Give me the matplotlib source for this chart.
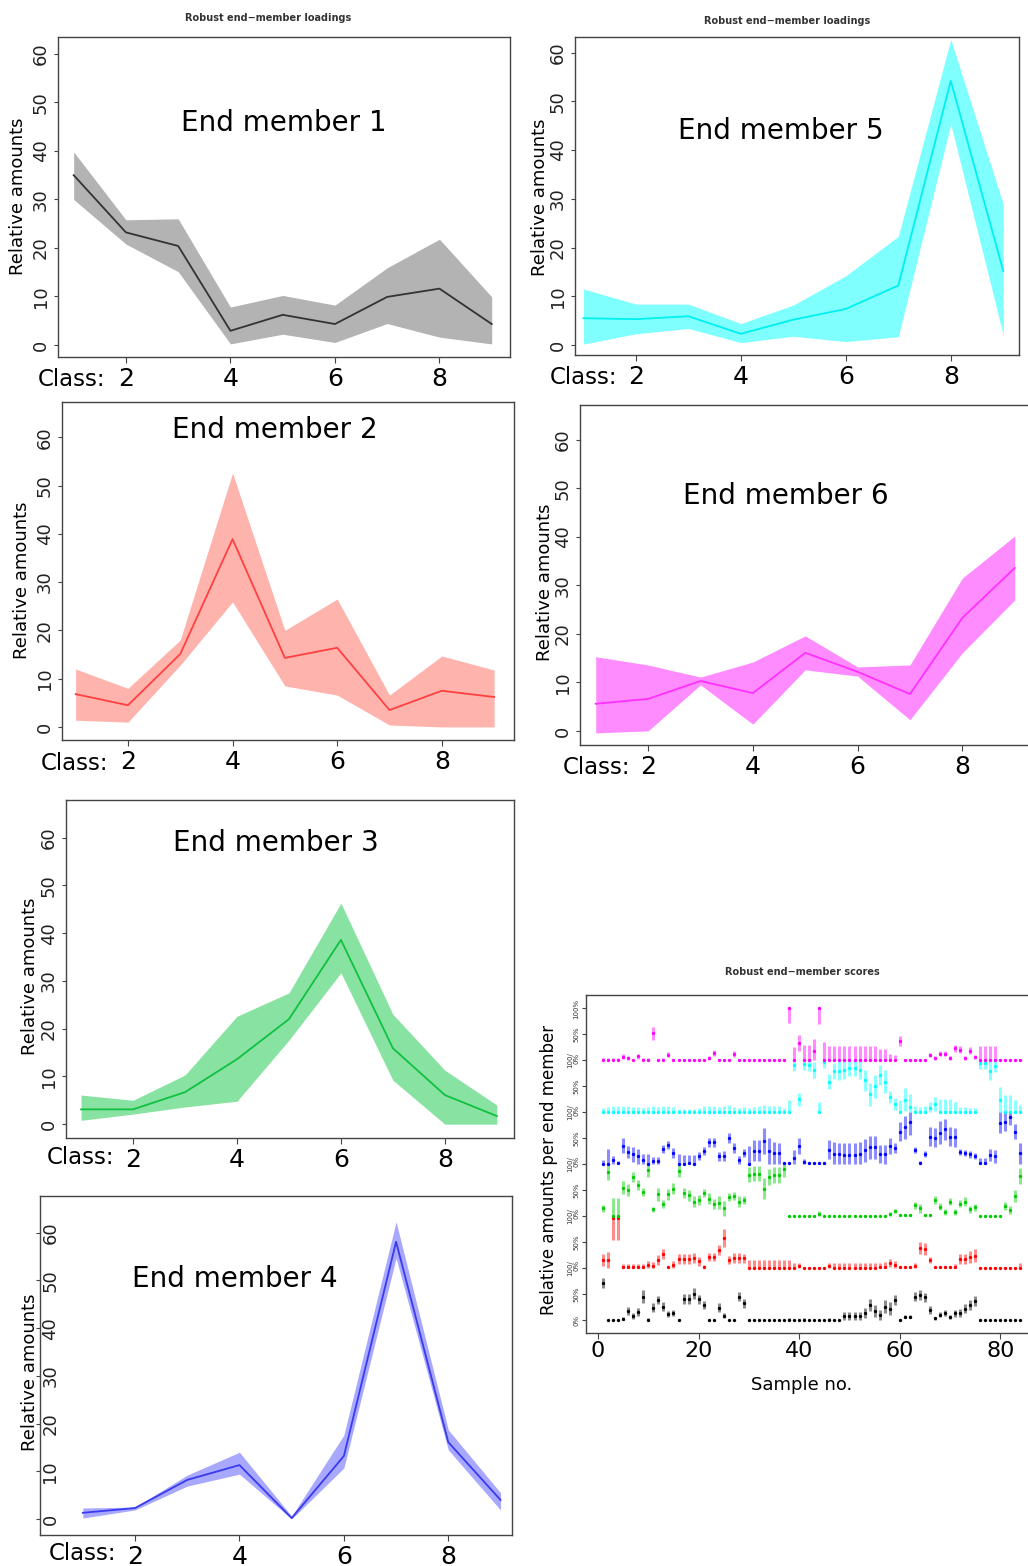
import matplotlib
matplotlib.use("Agg")
import matplotlib.pyplot as plt
import numpy as np

W, H = 1028, 1566
DPI = 100

# ---- loadings (per grain-size class) ----
CLASSES = [1, 2, 3, 4, 5, 6, 7, 8, 9]

EM1_MEAN = [35.0, 23.2, 20.4, 2.9, 6.2, 4.3, 9.9, 11.6, 4.3]
EM1_HI = [39.8, 25.8, 26.0, 7.8, 10.2, 8.2, 15.9, 21.8, 9.9]
EM1_LO = [30.0, 20.8, 15.1, 0.2, 2.2, 0.5, 4.4, 1.6, 0.2]

EM2_MEAN = [6.8, 4.5, 15.1, 38.9, 14.3, 16.4, 3.5, 7.5, 6.2]
EM2_HI = [12.0, 8.0, 18.0, 52.6, 20.0, 26.5, 6.6, 14.7, 11.8]
EM2_LO = [1.4, 1.0, 12.8, 25.9, 8.5, 6.6, 0.4, 0.0, 0.0]

EM3_MEAN = [3.1, 3.1, 6.7, 13.6, 22.0, 38.6, 15.9, 6.1, 1.7]
EM3_HI = [6.1, 5.0, 10.3, 22.6, 27.5, 46.3, 23.0, 11.3, 4.0]
EM3_LO = [0.8, 2.1, 3.6, 4.8, 17.6, 31.7, 9.2, 0.0, 0.0]

EM4_MEAN = [1.3, 2.3, 8.2, 11.3, 0.2, 13.2, 58.1, 16.1, 4.0]
EM4_HI = [2.3, 2.5, 9.2, 14.0, 0.6, 17.6, 62.3, 18.7, 5.5]
EM4_LO = [0.2, 1.9, 6.9, 9.4, 0.0, 10.7, 54.7, 14.5, 1.9]

EM5_MEAN = [5.5, 5.3, 5.9, 2.3, 5.2, 7.4, 12.2, 54.2, 15.2]
EM5_HI = [11.5, 8.4, 8.4, 4.4, 8.2, 14.2, 22.3, 62.7, 28.9]
EM5_LO = [0.2, 2.3, 3.4, 0.5, 1.8, 0.7, 1.7, 45.3, 2.0]

EM6_MEAN = [5.6, 6.6, 10.3, 7.8, 16.1, 12.2, 7.6, 23.3, 33.6]
EM6_HI = [15.3, 13.6, 11.1, 14.2, 19.6, 13.2, 13.6, 31.5, 40.2]
EM6_LO = [-0.4, 0.0, 9.5, 1.4, 12.6, 11.3, 2.3, 16.1, 27.0]

# ---- scores (per sample, % of each end member) ----
SAMPLES = np.arange(1, 85)

BLACK_V = [71, 0, 0, 0, 2, 18, 8, 16, 45, 0,
           24, 39, 26, 12, 14, 0, 40, 40, 51, 40,
           29, 0, 0, 24, 8, 0, 0, 45, 32, 0,
           0, 0, 0, 0, 0, 0, 0, 0, 0, 0,
           0, 0, 0, 0, 0, 0, 0, 0, 8, 8,
           8, 8, 14, 29, 17, 10, 26, 22, 39, 0,
           6, 6, 45, 48, 44, 19, 3, 10, 14, 6,
           13, 14, 22, 29, 37, 0, 0, 0, 0, 0,
           0, 0, 0, 0]
BLACK_E = [10, 1, 1, 1, 3, 8, 6, 8, 12, 3,
           8, 8, 8, 6, 6, 2, 10, 10, 10, 9,
           8, 1, 1, 8, 5, 1, 1, 9, 9, 1,
           1, 1, 1, 1, 1, 1, 1, 3, 1, 1,
           3, 1, 1, 1, 1, 3, 1, 1, 8, 8,
           8, 8, 10, 12, 12, 10, 12, 12, 10, 2,
           3, 3, 9, 9, 9, 8, 3, 5, 6, 4,
           7, 8, 9, 10, 10, 1, 1, 1, 1, 1,
           1, 1, 1, 1]

RED_V = [16, 16, 96, 96, 2, 2, 2, 2, 2, 6,
         4, 16, 27, 2, 6, 17, 17, 18, 19, 13,
         2, 21, 22, 35, 58, 15, 19, 19, 19, 0,
         0, 0, 0, 0, 0, 0, 0, 0, 0, 5,
         0, 0, 0, 0, 0, 5, 0, 0, 0, 0,
         0, 0, 0, 0, 0, 2, 3, 10, 6, 2,
         2, 2, 4, 39, 37, 16, 2, 2, 2, 2,
         3, 18, 18, 21, 24, 0, 0, 0, 0, 0,
         0, 0, 0, 0]
RED_E = [12, 15, 42, 42, 5, 5, 5, 6, 5, 8,
         8, 10, 9, 3, 7, 10, 10, 10, 10, 9,
         4, 8, 8, 10, 18, 8, 10, 10, 9, 15,
         15, 15, 15, 15, 15, 15, 15, 15, 10, 4,
         2, 2, 2, 2, 2, 4, 10, 10, 10, 10,
         10, 10, 10, 10, 10, 8, 8, 8, 8, 2,
         2, 2, 5, 12, 12, 6, 2, 2, 2, 3,
         5, 10, 10, 12, 12, 2, 2, 2, 2, 2,
         2, 2, 2, 10]

GREEN_V = [15, 85, 0, 0, 55, 50, 76, 60, 46, 89,
           13, 42, 24, 42, 53, 87, 45, 40, 28, 31,
           45, 34, 24, 26, 15, 37, 39, 28, 31, 80,
           82, 82, 53, 76, 79, 79, 90, 0, 0, 0,
           0, 0, 0, 5, 0, 0, 0, 0, 0, 0,
           0, 0, 0, 0, 0, 0, 0, 5, 10, 2,
           2, 2, 21, 15, 2, 2, 31, 18, 8, 28,
           8, 24, 28, 13, 17, 0, 0, 0, 0, 0,
           19, 12, 39, 77]
GREEN_E = [6, 15, 35, 35, 12, 12, 10, 10, 8, 13,
           5, 12, 8, 10, 10, 12, 10, 10, 10, 10,
           8, 10, 10, 12, 15, 8, 8, 10, 8, 15,
           15, 15, 20, 15, 15, 15, 15, 3, 3, 3,
           3, 3, 3, 5, 3, 3, 3, 3, 3, 3,
           3, 3, 3, 3, 3, 3, 3, 4, 4, 3,
           3, 3, 7, 9, 3, 3, 7, 7, 6, 7,
           6, 7, 8, 6, 7, 3, 3, 3, 3, 3,
           8, 8, 12, 15]

BLUE_V = [0, 0, 8, 2, 36, 24, 19, 15, 8, 0,
          6, 6, 30, 37, 22, 0, 0, 3, 0, 16,
          26, 42, 42, 15, 16, 50, 31, 8, 22, 0,
          26, 26, 45, 25, 21, 21, 2, 2, 12, 35,
          5, 2, 2, 2, 2, 28, 20, 19, 18, 18,
          18, 20, 27, 33, 33, 20, 19, 35, 31, 63,
          71, 82, 28, 2, 20, 53, 51, 61, 67, 53,
          52, 23, 21, 19, 16, 2, 2, 18, 15, 80,
          82, 91, 63, 21]
BLUE_E = [8, 30, 8, 5, 15, 12, 15, 15, 12, 20,
          8, 8, 8, 8, 10, 20, 18, 15, 18, 8,
          8, 8, 8, 8, 10, 10, 10, 8, 8, 35,
          20, 20, 25, 25, 22, 20, 3, 3, 15, 15,
          6, 3, 3, 3, 3, 18, 22, 22, 22, 22,
          22, 22, 22, 22, 22, 18, 18, 15, 10, 18,
          22, 25, 6, 5, 6, 18, 18, 22, 20, 18,
          18, 6, 6, 6, 6, 10, 10, 12, 12, 20,
          18, 15, 15, 20]

CYAN_V = [0, 0, 0, 0, 0, 0, 0, 0, 0, 0,
          0, 0, 0, 0, 0, 0, 0, 0, 0, 0,
          0, 0, 0, 0, 0, 0, 0, 0, 0, 0,
          0, 0, 0, 0, 0, 0, 0, 0, 91, 25,
          94, 91, 82, 0, 97, 59, 80, 80, 82, 85,
          85, 82, 62, 35, 50, 72, 59, 30, 16, 0,
          24, 11, 0, 0, 0, 8, 16, 0, 0, 0,
          0, 0, 0, 0, 0, 95, 95, 80, 90, 24,
          0, 0, 0, 0]
CYAN_E = [8, 10, 12, 12, 12, 12, 10, 10, 8, 10,
          12, 10, 12, 12, 10, 6, 6, 6, 6, 8,
          12, 12, 12, 10, 12, 14, 10, 8, 10, 8,
          10, 12, 14, 12, 12, 12, 8, 24, 12, 12,
          12, 12, 15, 20, 12, 15, 15, 18, 18, 15,
          15, 18, 20, 22, 22, 20, 22, 12, 12, 24,
          22, 25, 12, 10, 12, 12, 14, 25, 25, 25,
          20, 10, 10, 8, 8, 12, 12, 18, 12, 25,
          33, 33, 24, 14]

MAGENTA_V = [0, 0, 0, 0, 7, 4, 0, 8, 1, 0,
             52, 0, 1, 11, 0, 0, 0, 0, 0, 0,
             0, 5, 15, 0, 0, 0, 13, 0, 0, 0,
             0, 0, 0, 0, 0, 0, 0, 100, 0, 33,
             0, 0, 19, 100, 0, 0, 0, 0, 0, 0,
             0, 0, 0, 0, 0, 0, 0, 0, 0, 37,
             0, 0, 0, 0, 0, 10, 5, 13, 13, 5,
             23, 21, 5, 19, 6, 0, 0, 0, 0, 0,
             0, 0, 0, 0]
MAGENTA_E = [4, 4, 4, 4, 5, 5, 3, 5, 4, 4,
             12, 2, 3, 5, 2, 2, 2, 2, 2, 2,
             2, 4, 6, 2, 2, 2, 6, 2, 2, 2,
             2, 2, 2, 2, 2, 2, 2, 28, 25, 15,
             30, 30, 22, 30, 35, 27, 27, 27, 27, 27,
             27, 27, 27, 27, 27, 22, 22, 12, 10, 10,
             2, 2, 2, 2, 2, 4, 4, 5, 5, 4,
             7, 7, 4, 6, 4, 28, 28, 28, 28, 3,
             3, 3, 3, 3]

SCORE_ROWS = [
    (BLACK_V, BLACK_E, "#000000"),
    (RED_V, RED_E, "#ff0000"),
    (GREEN_V, GREEN_E, "#00cd00"),
    (BLUE_V, BLUE_E, "#0000ff"),
    (CYAN_V, CYAN_E, "#00ffff"),
    (MAGENTA_V, MAGENTA_E, "#ff00ff"),
]

# painel: caixa em pixels (x0, y0, x1, y1), limites, cores, posicao dos textos
PAINEIS = [
    dict(nome="End member 1", dados=(EM1_MEAN, EM1_LO, EM1_HI),
         box=(58, 37, 510, 357), xlim=(0.70, 9.35), ylim=(-2.5, 63.5),
         fill="#b3b3b3", line="#333333", nome_xy=(284, 123),
         ylab=(18, 196), classe=(105, 380), ypad=3),
    dict(nome="End member 5", dados=(EM5_MEAN, EM5_LO, EM5_HI),
         box=(575, 37, 1019, 355), xlim=(0.84, 9.30), ylim=(-2.05, 63.2),
         fill="#80ffff", line="#00f0f0", nome_xy=(781, 131),
         ylab=(540, 197), classe=(617, 378), ypad=3),
    dict(nome="End member 2", dados=(EM2_MEAN, EM2_LO, EM2_HI),
         box=(62, 402, 514, 740), xlim=(0.74, 9.38), ylim=(-2.7, 67.3),
         fill="#ffb3ad", line="#ff4040", nome_xy=(275, 430),
         ylab=(22, 580), classe=(108, 763), ypad=3),
    dict(nome="End member 6", dados=(EM6_MEAN, EM6_LO, EM6_HI),
         box=(580, 405, 1032, 745), xlim=(0.70, 9.33), ylim=(-2.9, 67.2),
         fill="#ff8cff", line="#ff30ff", nome_xy=(786, 496),
         ylab=(545, 582), classe=(630, 767), ypad=3),
    dict(nome="End member 3", dados=(EM3_MEAN, EM3_LO, EM3_HI),
         box=(66, 800, 514, 1138), xlim=(0.71, 9.33), ylim=(-2.9, 67.9),
         fill="#88e3a2", line="#10c040", nome_xy=(276, 843),
         ylab=(30, 976), classe=(114, 1158), ypad=3),
    # aqui os rotulos do eixo y ficam dentro da moldura
    dict(nome="End member 4", dados=(EM4_MEAN, EM4_LO, EM4_HI),
         box=(40, 1196, 512, 1535), xlim=(0.18, 9.22), ylim=(-3.35, 67.7),
         fill="#a8a8ff", line="#3a3aee", nome_xy=(235, 1279),
         ylab=(30, 1372), classe=(116, 1553), ypad=-17),
]

COR_EIXO = "#444444"


def add_ax(fig, box):
    x0, y0, x1, y1 = box
    return fig.add_axes([x0 / W, 1 - y1 / H, (x1 - x0) / W, (y1 - y0) / H])


def fig_xy(x, y):
    return x / W, 1 - y / H


def estilo_eixos(ax):
    for sp in ax.spines.values():
        sp.set_color(COR_EIXO)
        sp.set_linewidth(1.0)
    ax.tick_params(colors=COR_EIXO, labelcolor="black", width=0.8)


def painel_loading(fig, p):
    mean, lo, hi = p["dados"]
    ax = add_ax(fig, p["box"])
    ax.fill_between(CLASSES, lo, hi, color=p["fill"], lw=0)
    ax.plot(CLASSES, mean, color=p["line"], lw=1.3)
    ax.set_xlim(p["xlim"])
    ax.set_ylim(p["ylim"])
    ax.set_xticks([2, 4, 6, 8])
    ax.set_yticks(range(0, 61, 10))
    estilo_eixos(ax)
    ax.tick_params(axis="x", labelsize=18, length=4, pad=3)
    ax.tick_params(axis="y", labelsize=13, length=3, pad=p["ypad"])
    for t in ax.get_yticklabels():
        t.set_rotation(90)
        t.set_va("center")
        t.set_color("#222222")

    fx, fy = fig_xy(*p["nome_xy"])
    fig.text(fx, fy, p["nome"], ha="center", va="center", fontsize=20)
    fx, fy = fig_xy(*p["ylab"])
    fig.text(fx, fy, "Relative amounts", rotation=90, ha="center",
             va="center", fontsize=13)
    fx, fy = fig_xy(*p["classe"])
    fig.text(fx, fy, "Class:", ha="right", va="center", fontsize=16.5)
    return ax


def painel_scores(fig):
    ax = add_ax(fig, (586, 995, 1032, 1333))
    for banda, (vals, errs, cor) in enumerate(SCORE_ROWS):
        v = np.array(vals, dtype=float)
        e = np.array(errs, dtype=float)
        lo = np.clip(v - e, 0, 100)
        hi = np.clip(v + e, 0, 100)
        ax.vlines(SAMPLES, banda + lo / 100, banda + hi / 100,
                  color=cor, alpha=0.45, lw=2.2)
        ax.plot(SAMPLES, banda + v / 100, "o", ms=2.4, color=cor, mew=0)

    ax.set_xlim(-2.4, 86.3)
    ax.set_ylim(-0.25, 6.26)
    ax.set_xticks([0, 20, 40, 60, 80])
    pos = np.arange(0, 6.01, 0.5)
    rot = []
    for y in pos:
        if y == 0:
            rot.append("0%")
        elif y == 6:
            rot.append("100%")
        elif y % 1 == 0:
            rot.append("100/\n0%")
        else:
            rot.append("50%")
    ax.set_yticks(pos)
    ax.set_yticklabels(rot)
    estilo_eixos(ax)
    ax.tick_params(axis="x", labelsize=16, length=4, pad=2)
    ax.tick_params(axis="y", labelsize=5, length=3, pad=2)
    for t in ax.get_yticklabels():
        t.set_rotation(90)
        t.set_va("center")
        t.set_color("#333333")
        t.set_linespacing(1.0)

    fx, fy = fig_xy(802, 1385)
    fig.text(fx, fy, "Sample no.", ha="center", va="center", fontsize=13)
    fx, fy = fig_xy(549, 1170)
    fig.text(fx, fy, "Relative amounts per end member", rotation=90,
             ha="center", va="center", fontsize=12)
    fx, fy = fig_xy(802, 972)
    fig.text(fx, fy, "Robust end\u2212member scores", ha="center",
             va="center", fontsize=7, fontweight="bold", color="#333333")
    return ax


def main():
    fig = plt.figure(figsize=(W / DPI, H / DPI), dpi=DPI)
    fig.patch.set_facecolor("white")

    for p in PAINEIS:
        painel_loading(fig, p)

    for x, y in [(268, 18), (787, 21)]:
        fx, fy = fig_xy(x, y)
        fig.text(fx, fy, "Robust end\u2212member loadings", ha="center",
                 va="center", fontsize=7, fontweight="bold", color="#333333")

    painel_scores(fig)

    fig.savefig("out.png", dpi=DPI, facecolor="white")
    plt.close(fig)


if __name__ == "__main__":
    main()
